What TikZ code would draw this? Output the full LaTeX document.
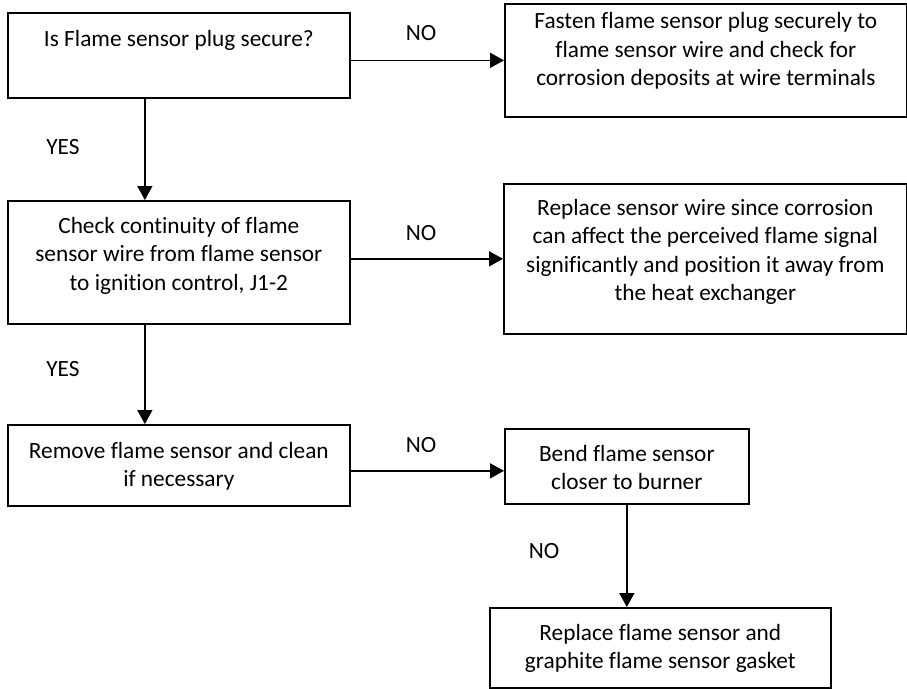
\documentclass[tikz,border=0pt]{standalone}
\usepackage{fontspec}
\setmainfont{Carlito}[Ligatures=NoCommon]
\usetikzlibrary{arrows.meta}

% box content: width, height, top padding, text
\newcommand{\boxbody}[4]{\parbox[c][#2pt][t]{#1pt}{\centering\vspace*{#3pt}\strut #4}}

\tikzset{
  flowbox/.style={draw=black, line width=1.7pt, inner sep=0pt, anchor=north west,
    font=\fontsize{23.3}{28.5}\selectfont},
  flowlabel/.style={font=\fontsize{23.3}{28}\selectfont, inner sep=0pt},
  flowarrow/.style={line width=1.7pt, -{Triangle[length=14pt,width=15pt]}}
}

\begin{document}
\begin{tikzpicture}[x=1pt, y=-1pt]
\useasboundingbox (0,0) rectangle (907,688);

% process boxes
\node[flowbox] (b1) at (7,12)   {\boxbody{342}{85}{13.5}{Is Flame sensor plug secure?}};
\node[flowbox] (b2) at (504,3)  {\boxbody{402}{113}{5}{Fasten flame sensor plug securely to\\flame sensor wire and check for\\corrosion deposits at wire terminals}};
\node[flowbox] (b3) at (7,200)  {\boxbody{342}{123}{12.5}{Check continuity of flame\\sensor wire from flame sensor\\to ignition control, J1-2}};
\node[flowbox] (b4) at (503,183){\boxbody{403}{150}{11.5}{Replace sensor wire since corrosion\\can affect the perceived flame signal\\significantly and position it away from\\the heat exchanger}};
\node[flowbox] (b5) at (7,424)  {\boxbody{342}{81}{13.5}{Remove flame sensor and clean\\if necessary}};
\node[flowbox] (b6) at (504,428){\boxbody{244}{75}{12.5}{Bend flame sensor\\closer to burner}};
\node[flowbox] (b7) at (489,607){\boxbody{341}{80}{12.5}{Replace flame sensor and\\graphite flame sensor gasket}};

% connectors
\draw[flowarrow] (b1.east |- b2.west) -- (b2.west);
\draw[flowarrow] (b3.east |- b4.west) -- (b4.west);
\draw[flowarrow] ([yshift=-4.5pt]b5.east |- b6.west) -- ([yshift=-4.5pt]b6.west);
\draw[flowarrow] ([xshift=-34pt]b1.south) -- ([xshift=-34pt]b3.north);
\draw[flowarrow] ([xshift=-34pt]b3.south) -- ([xshift=-34pt]b5.north);
\draw[flowarrow] (b6.south) -- (b6.south |- b7.north);

% branch labels
\node[flowlabel] (n1) at (421,33)  {NO};
\node[flowlabel] (n2) at (421,233) {NO};
\node[flowlabel] (n3) at (421,445) {NO};
\node[flowlabel] (n4) at (544,551) {NO};
\node[flowlabel] (y1) at (63,147)  {YES};
\node[flowlabel] (y2) at (63,369)  {YES};
\end{tikzpicture}
\end{document}
